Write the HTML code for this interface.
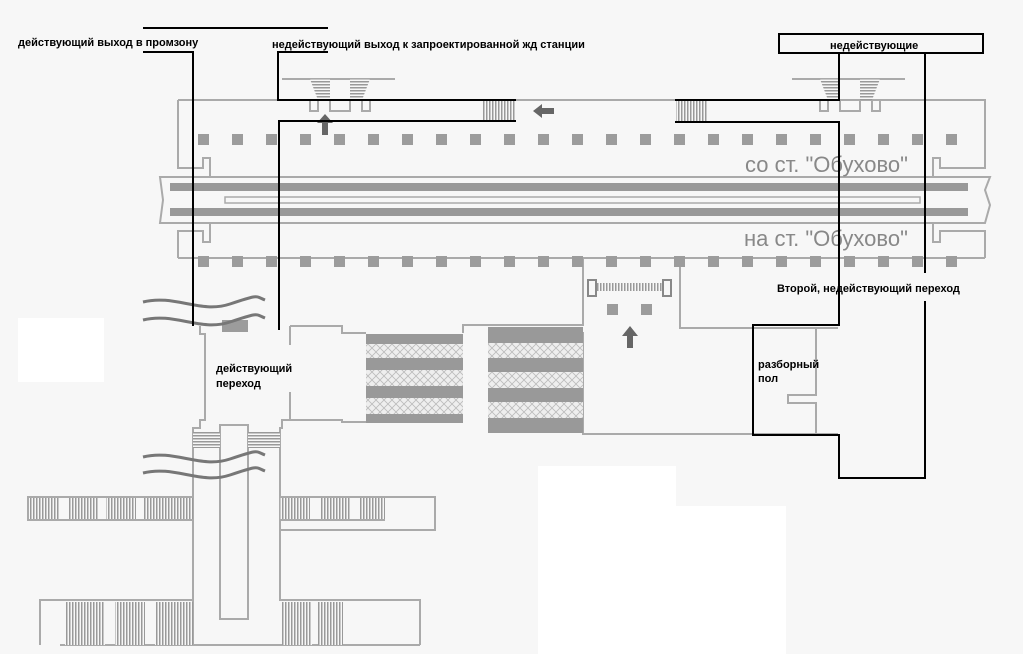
<!DOCTYPE html>
<html><head><meta charset="utf-8"><style>
html,body{margin:0;padding:0;background:#f7f7f7;}
svg{display:block;}
text{font-family:"Liberation Sans",sans-serif;}
.b{font-weight:bold;font-size:11px;fill:#000;}
</style></head><body>
<svg width="1023" height="654" viewBox="0 0 1023 654" xmlns="http://www.w3.org/2000/svg">
<defs>
<pattern id="vs" width="3" height="4" patternUnits="userSpaceOnUse"><rect width="3" height="4" fill="#f7f7f7"/><rect width="1.5" height="4" fill="#999"/></pattern>
<pattern id="hs" width="4" height="3" patternUnits="userSpaceOnUse"><rect width="4" height="3" fill="#f7f7f7"/><rect width="4" height="1.5" fill="#999"/></pattern>
<pattern id="hx" width="8" height="8" patternUnits="userSpaceOnUse"><rect width="8" height="8" fill="#eee"/><path d="M0 8L8 0M0 0L8 8" stroke="#bbb" stroke-width="0.8"/></pattern>
</defs>
<rect width="1023" height="654" fill="#f7f7f7"/>
<rect x="18" y="318" width="86" height="64" fill="#fff"/>
<rect x="538" y="466" width="138" height="188" fill="#fff"/>
<rect x="676" y="506" width="110" height="148" fill="#fff"/>

<g fill="none" stroke="#aaa" stroke-width="2">
<path d="M178 100H985V168H940V158H933V177"/>
<path d="M178 100V168H203V158H210V177"/>
<path d="M160 177H990L985 190L990 205L985 223H160L163 200Z"/>
<path d="M178 258V231H203V242H210V223"/>
<path d="M985 258V231H940V242H933V223"/>
<path d="M178 258H985"/>
<rect x="225" y="197" width="695" height="6" stroke-width="1.5"/>
<path d="M282 79H395M792 79H905"/>
<path d="M310 100V111H318V100M330 100V111H350V100M362 100V111H370V100"/>
<path d="M820 100V111H828V100M840 100V111H860V100M872 100V111H880V100"/>
<path d="M583 258V325H463V333"/>
<path d="M680 258V328H838"/>
<path d="M583 332V434H838"/>
<path d="M816 328V395H788V403H816V434"/>
<!-- main passage -->
<path d="M200 326V334H205V420H200V428H193V645"/>
<path d="M290 326H342V333H366M290 326V345M290 392V420H282V428H280V600H420V645"/>
<path d="M290 420H342V422H366"/>
<rect x="220" y="425" width="28" height="194"/>
<path d="M193 497H28V520H193"/>
<path d="M280 497H435V530H280M280 520H385"/>
<path d="M193 600H40V645"/>
<path d="M60 645H420"/>
</g>
<rect x="170" y="183" width="798" height="8" fill="#999"/>
<rect x="170" y="208" width="798" height="8" fill="#999"/>
<g fill="#9c9c9c">
<rect x="198" y="134" width="11" height="11"/><rect x="232" y="134" width="11" height="11"/><rect x="266" y="134" width="11" height="11"/><rect x="300" y="134" width="11" height="11"/><rect x="334" y="134" width="11" height="11"/><rect x="368" y="134" width="11" height="11"/><rect x="402" y="134" width="11" height="11"/><rect x="436" y="134" width="11" height="11"/><rect x="470" y="134" width="11" height="11"/><rect x="504" y="134" width="11" height="11"/><rect x="538" y="134" width="11" height="11"/><rect x="572" y="134" width="11" height="11"/><rect x="606" y="134" width="11" height="11"/><rect x="640" y="134" width="11" height="11"/><rect x="674" y="134" width="11" height="11"/><rect x="708" y="134" width="11" height="11"/><rect x="742" y="134" width="11" height="11"/><rect x="776" y="134" width="11" height="11"/><rect x="810" y="134" width="11" height="11"/><rect x="844" y="134" width="11" height="11"/><rect x="878" y="134" width="11" height="11"/><rect x="912" y="134" width="11" height="11"/><rect x="946" y="134" width="11" height="11"/>
<rect x="198" y="256" width="11" height="11"/><rect x="232" y="256" width="11" height="11"/><rect x="266" y="256" width="11" height="11"/><rect x="300" y="256" width="11" height="11"/><rect x="334" y="256" width="11" height="11"/><rect x="368" y="256" width="11" height="11"/><rect x="402" y="256" width="11" height="11"/><rect x="436" y="256" width="11" height="11"/><rect x="470" y="256" width="11" height="11"/><rect x="504" y="256" width="11" height="11"/><rect x="538" y="256" width="11" height="11"/><rect x="572" y="256" width="11" height="11"/><rect x="606" y="256" width="11" height="11"/><rect x="640" y="256" width="11" height="11"/><rect x="674" y="256" width="11" height="11"/><rect x="708" y="256" width="11" height="11"/><rect x="742" y="256" width="11" height="11"/><rect x="776" y="256" width="11" height="11"/><rect x="810" y="256" width="11" height="11"/><rect x="844" y="256" width="11" height="11"/><rect x="878" y="256" width="11" height="11"/><rect x="912" y="256" width="11" height="11"/><rect x="946" y="256" width="11" height="11"/>
<rect x="607" y="304" width="11" height="11"/><rect x="641" y="304" width="11" height="11"/>
<rect x="222" y="320" width="26" height="12"/>
</g>
<rect x="483" y="100" width="32" height="21" fill="url(#vs)"/>
<rect x="676" y="100" width="32" height="21" fill="url(#vs)"/>
<rect x="596" y="283" width="66" height="8" fill="url(#vs)"/>
<rect x="588" y="280" width="8" height="16" fill="none" stroke="#888" stroke-width="2"/>
<rect x="663" y="280" width="8" height="16" fill="none" stroke="#888" stroke-width="2"/>
<path d="M310 79H330V100H318Z M350 79H370L362 100H350Z" fill="url(#hs)"/>
<path d="M820 79H840V100H828Z M860 79H880L872 100H860Z" fill="url(#hs)"/>
<g fill="url(#vs)">
<rect x="30" y="498" width="30" height="21"/><rect x="68" y="498" width="30" height="21"/><rect x="106" y="498" width="30" height="21"/><rect x="144" y="498" width="49" height="21"/>
<rect x="280" y="498" width="30" height="21"/><rect x="320" y="498" width="30" height="21"/><rect x="360" y="498" width="25" height="21"/>
<rect x="65" y="602" width="40" height="43"/><rect x="115" y="602" width="30" height="43"/><rect x="155" y="602" width="38" height="43"/>
<rect x="282" y="602" width="30" height="43"/><rect x="318" y="602" width="25" height="43"/>
</g>
<rect x="193" y="432" width="27" height="16" fill="url(#hs)"/>
<rect x="248" y="432" width="32" height="16" fill="url(#hs)"/>
<g>
<rect x="366" y="334" width="97" height="88" fill="url(#hx)"/>
<rect x="366" y="334" width="97" height="10" fill="#999"/>
<rect x="366" y="358" width="97" height="12" fill="#999"/>
<rect x="366" y="386" width="97" height="12" fill="#999"/>
<rect x="366" y="414" width="97" height="9" fill="#999"/>
<rect x="488" y="327" width="95" height="106" fill="url(#hx)"/>
<rect x="488" y="327" width="95" height="16" fill="#999"/>
<rect x="488" y="358" width="95" height="14" fill="#999"/>
<rect x="488" y="388" width="95" height="14" fill="#999"/>
<rect x="488" y="418" width="95" height="15" fill="#999"/>
</g>
<g fill="none" stroke="#777" stroke-width="3">
<path d="M143 302C175 294 200 314 230 304S255 296 265 300"/>
<path d="M143 320C175 312 200 332 230 322S255 314 265 318"/>
<path d="M143 457C175 449 200 469 230 459S255 451 265 455"/>
<path d="M143 473C175 465 200 485 230 475S255 467 265 471"/>
</g>
<g fill="#666">
<path d="M322 135h6v-12h5l-8-9-8 9h5z"/>
<path d="M533 111l9-7v4h12v6h-12v4z"/>
<path d="M627 348h6v-12h5l-8-10-8 10h5z"/>
</g>
<text x="745" y="172" font-size="22" fill="#888">со ст. "Обухово"</text>
<text x="744" y="246" font-size="22" fill="#888">на ст. "Обухово"</text>
<g fill="none" stroke="#000" stroke-width="2">
<path d="M143 28H328"/>
<path d="M143 52H193V326"/>
<path d="M328 52H278V100H516"/>
<path d="M516 121H279V330"/>
<rect x="779" y="34" width="204" height="19"/>
<path d="M839 53V100H675"/>
<path d="M675 122H839V325H753V435H839V478H925V301"/>
<path d="M925 273V53"/>
</g>
<text class="b" x="18" y="46">действующий выход в промзону</text>
<text class="b" x="272" y="48">недействующий выход к запроектированной жд станции</text>
<text class="b" x="830" y="49">недействующие</text>
<text class="b" x="777" y="292">Второй, недействующий переход</text>
<text class="b" x="216" y="372">действующий</text>
<text class="b" x="216" y="387">переход</text>
<text class="b" x="758" y="368">разборный</text>
<text class="b" x="758" y="382">пол</text>
</svg>
</body></html>
